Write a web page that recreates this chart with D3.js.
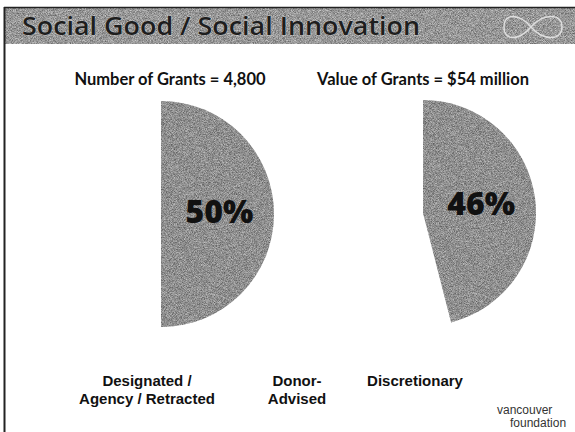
<!DOCTYPE html>
<html>
<head>
<meta charset="utf-8">
<script src="https://cdn.jsdelivr.net/npm/d3@7/dist/d3.min.js"></script>
<style>
  html, body { margin: 0; padding: 0; background: #fff; }
  svg { display: block; }
</style>
</head>
<body>
<div id="chart"></div>
<script>
// values
var title = "Social Good / Social Innovation";
var panelTitles = ["Number of Grants = 4,800", "Value of Grants = $54 million"];
var shownShare = [50, 46];              // percent shown as the grey slice
var shareLabels = ["50%", "46%"];
var legendLines = [
    ["Designated /", "Agency / Retracted"],
    ["Donor-", "Advised"],
    ["Discretionary"]
];

var width = 575,
    height = 432;

// layout
var pieCenters = [[161, 214], [423, 213]],
    radius = 113,
    panelTitleX = [170, 423],
    legendX = [147, 297, 415];

var svg = d3.select("#chart")
    .append("svg")
    .attr("width", width)
    .attr("height", height);

// scanner grain
var defs = svg.append("defs");
var grain = defs.append("filter")
    .attr("id", "grain")
    .attr("x", 0).attr("y", 0)
    .attr("width", "100%").attr("height", "100%")
    .attr("color-interpolation-filters", "sRGB");
grain.append("feTurbulence")
    .attr("type", "fractalNoise")
    .attr("baseFrequency", 1.4)
    .attr("numOctaves", 1)
    .attr("seed", 7)
    .attr("result", "noise");
grain.append("feColorMatrix")
    .attr("in", "noise")
    .attr("type", "matrix")
    .attr("values", "0.9 0 0 0 0.28  0.9 0 0 0 0.28  0.9 0 0 0 0.28  0 0 0 0 1")
    .attr("result", "gray");
grain.append("feComposite")
    .attr("in", "gray")
    .attr("in2", "SourceGraphic")
    .attr("operator", "in")
    .attr("result", "clipped");
grain.append("feBlend")
    .attr("in", "clipped")
    .attr("in2", "SourceGraphic")
    .attr("mode", "multiply");

// header band
svg.append("rect")
    .attr("x", 5)
    .attr("y", 8)
    .attr("width", width - 5)
    .attr("height", 36)
    .attr("fill", "#cfcfcf")
    .attr("filter", "url(#grain)");

svg.append("line")
    .attr("x1", 4).attr("x2", width)
    .attr("y1", 7.5).attr("y2", 7.5)
    .attr("stroke", "#222")
    .attr("stroke-width", 1.5);

svg.append("line")
    .attr("x1", 4.5).attr("x2", 4.5)
    .attr("y1", 7).attr("y2", height)
    .attr("stroke", "#222")
    .attr("stroke-width", 2);

svg.append("text")
    .attr("x", 22)
    .attr("y", 35)
    .attr("textLength", 398)
    .attr("lengthAdjust", "spacingAndGlyphs")
    .style("font-family", "'Open Sans', Lato, sans-serif")
    .style("font-weight", "600")
    .style("font-size", "26px")
    .style("fill", "#1e1e1e")
    .style("stroke", "#e6e6e6")
    .style("stroke-width", 0.4)
    .style("paint-order", "stroke")
    .text(title);

// infinity mark in the header
var inf = d3.path();
inf.moveTo(531, 27);
inf.bezierCurveTo(519, 13, 504, 13, 504, 27);
inf.bezierCurveTo(504, 41, 519, 41, 531, 27);
inf.bezierCurveTo(543, 13, 562, 13, 562, 27);
inf.bezierCurveTo(562, 41, 543, 41, 531, 27);
svg.append("path")
    .attr("d", inf.toString())
    .attr("fill", "none")
    .attr("stroke", "#dedede")
    .attr("stroke-width", 1.5);

// pies
var pie = d3.pie()
    .sort(null)
    .value(function (d) { return d; });

var arc = d3.arc()
    .innerRadius(0)
    .outerRadius(radius);

shownShare.forEach(function (share, i) {
    var g = svg.append("g")
        .attr("transform", "translate(" + pieCenters[i][0] + "," + pieCenters[i][1] + ")");

    var slices = pie([share, 100 - share]);

    g.selectAll("path")
        .data(slices)
        .enter().append("path")
        .attr("d", arc)
        .attr("fill", function (d) { return d.index === 0 ? "#c4c4c4" : "none"; })
        .attr("filter", function (d) { return d.index === 0 ? "url(#grain)" : null; });

    var c = arc.centroid(slices[0]);
    g.append("text")
        .attr("x", c[0] + 2)
        .attr("y", c[1] + 9)
        .attr("text-anchor", "middle")
        .style("font-family", "'Open Sans', Lato, sans-serif")
        .style("font-weight", "800")
        .style("font-size", "32px")
        .style("fill", "#111")
        .text(shareLabels[i]);

    svg.append("text")
        .attr("x", panelTitleX[i])
        .attr("y", 85)
        .attr("text-anchor", "middle")
        .style("font-family", "Lato, 'Open Sans', sans-serif")
        .style("font-weight", "bold")
        .style("font-size", "16.5px")
        .style("fill", "#111")
        .text(panelTitles[i]);
});

// legend labels (swatches lost in the scan)
legendLines.forEach(function (lines, i) {
    var t = svg.append("text")
        .attr("text-anchor", "middle")
        .style("font-family", "'Liberation Sans', Arial, sans-serif")
        .style("font-weight", "bold")
        .style("font-size", "15px")
        .style("fill", "#111");
    lines.forEach(function (line, j) {
        t.append("tspan")
            .attr("x", legendX[i])
            .attr("y", 386 + j * 18)
            .text(line);
    });
});

// foundation wordmark
svg.append("text")
    .attr("x", 497)
    .attr("y", 414)
    .style("font-family", "'Liberation Sans', Arial, sans-serif")
    .style("font-size", "12px")
    .style("fill", "#333")
    .text("vancouver");
svg.append("text")
    .attr("x", 510)
    .attr("y", 427)
    .style("font-family", "'Liberation Sans', Arial, sans-serif")
    .style("font-size", "12px")
    .style("fill", "#333")
    .text("foundation");
</script>
</body>
</html>
